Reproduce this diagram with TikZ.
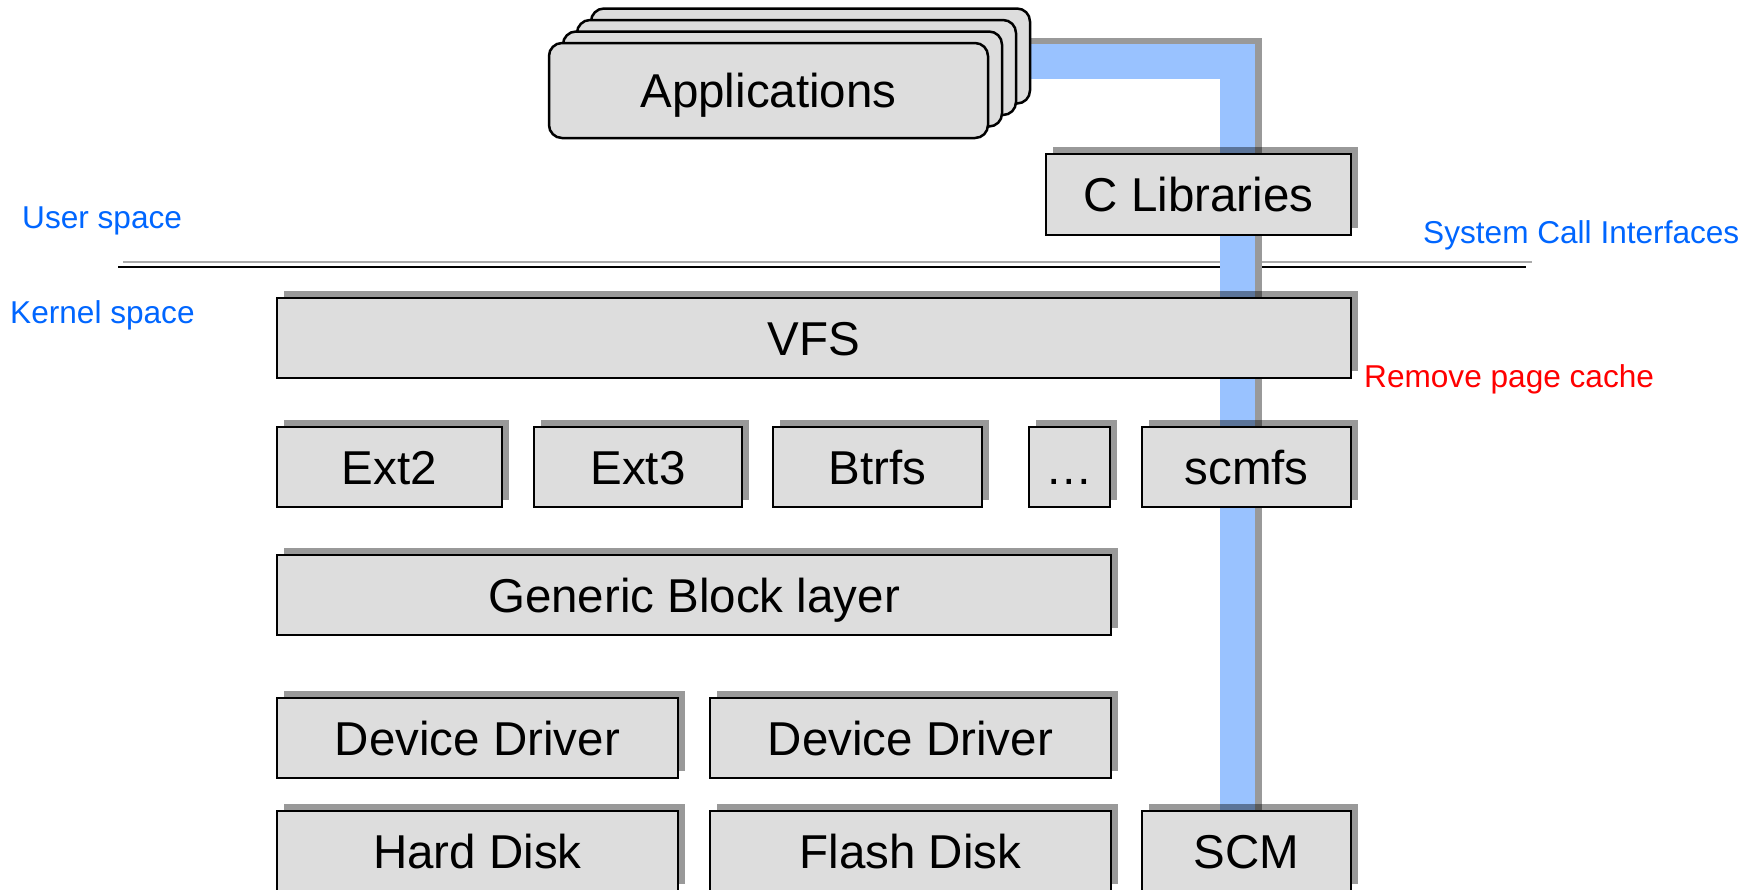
\documentclass[tikz,border=0pt]{standalone}
\usepackage{fontspec}
\setmainfont{Liberation Sans}
\usetikzlibrary{shadows}
\definecolor{boxfill}{RGB}{221,221,221}
\definecolor{bandblue}{RGB}{153,194,255}
\definecolor{bandshadow}{RGB}{153,153,153}
\definecolor{lineg}{RGB}{170,170,170}
\definecolor{spaceblue}{RGB}{0,102,255}
\definecolor{notered}{RGB}{255,0,0}
\tikzset{
  layerbox/.style={draw=black, line width=2.5pt, fill=boxfill, inner sep=0pt,
    text height=34pt, text depth=0pt,
    font=\fontsize{47.5}{56}\selectfont,
    drop shadow={shadow xshift=7pt, shadow yshift=7pt, fill=black, opacity=0.4}},
  appbox/.style={draw=black, line width=2.5pt, fill=boxfill, inner sep=0pt,
    rounded corners=13pt, minimum width=439pt, minimum height=95pt,
    text height=34pt, text depth=0pt, font=\fontsize{47.5}{56}\selectfont},
  sidelabel/.style={anchor=base west, inner sep=0pt, font=\fontsize{31.6}{38}\selectfont},
  band/.style={line width=35pt, line join=miter, color=bandblue},
  bandshade/.style={line width=35pt, line join=miter, color=bandshadow},
}
\begin{document}
\begin{tikzpicture}[x=1pt,y=-1pt]
\useasboundingbox (0,0) rectangle (1747,889);
\clip (0,0) rectangle (1747,889);
\fill[white] (0,0) rectangle (1747,889);

% user / kernel separator
\coordinate (g1) at (123,262);
\coordinate (g2) at (1532,262);
\coordinate (k1) at (118,267);
\coordinate (k2) at (1526,267);
\draw[lineg, line width=2.5pt] (g1) -- (g2);
\draw[black, line width=2pt] (k1) -- (k2);

% system call band
\coordinate (bs) at (1020,61.5);
\coordinate (bc) at (1237.5,61.5);
\coordinate (be) at (1237.5,830);
\draw[bandshade] ([shift={(7,-6)}]bs) -- ([shift={(7,-6)}]bc) -- ([shift={(7,-6)}]be);
\draw[band] (bs) -- (bc) -- (be);

% applications stack
\node[appbox] (app4) at (810.5,56) {};
\node[appbox] (app3) at (796.5,67.5) {};
\node[appbox] (app2) at (782.5,79) {};
\node[appbox] (app1) at (768.5,90.5) {Applications};

% layers
\node[layerbox, minimum width=305pt, minimum height=81pt] (clib) at (1198.5,194.5) {C Libraries};
\node[layerbox, minimum width=1074pt, minimum height=80pt] (vfs) at (814,338) {VFS};
\node[layerbox, minimum width=225pt, minimum height=80pt] (ext2) at (389.5,467) {Ext2};
\node[layerbox, minimum width=208pt, minimum height=80pt] (ext3) at (638,467) {Ext3};
\node[layerbox, minimum width=209pt, minimum height=80pt] (btrfs) at (877.5,467) {Btrfs};
\node[layerbox, minimum width=81pt, minimum height=80pt] (dots) at (1069.5,467) {…};
\node[layerbox, minimum width=209pt, minimum height=80pt] (scmfs) at (1246.5,467) {scmfs};
\node[layerbox, minimum width=834pt, minimum height=80pt] (gbl) at (694,595) {Generic Block layer};
\node[layerbox, minimum width=401pt, minimum height=80pt] (dd1) at (477.5,738) {Device Driver};
\node[layerbox, minimum width=401pt, minimum height=80pt] (dd2) at (910.5,738) {Device Driver};
\node[layerbox, minimum width=401pt, minimum height=80pt] (hd) at (477.5,851) {Hard Disk};
\node[layerbox, minimum width=401pt, minimum height=80pt] (fd) at (910.5,851) {Flash Disk};
\node[layerbox, minimum width=209pt, minimum height=80pt] (scm) at (1246.5,851) {SCM};

% side labels
\node[sidelabel, text=spaceblue] (user) at (22,228) {User space};
\node[sidelabel, text=spaceblue] (kernel) at (10,323) {Kernel space};
\node[sidelabel, text=spaceblue] (sci) at (1423,243) {System Call Interfaces};
\node[sidelabel, text=notered] (rpc) at (1364,387) {Remove page cache};
\end{tikzpicture}
\end{document}
